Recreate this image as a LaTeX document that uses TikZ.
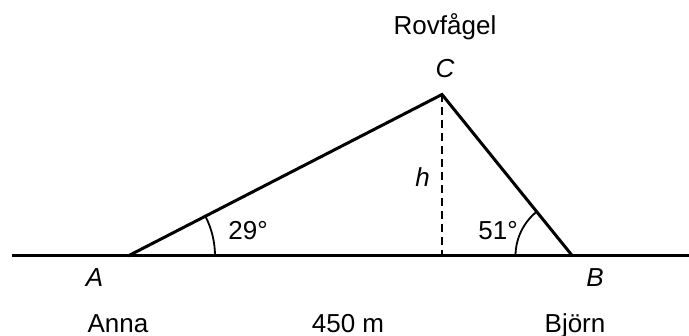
\documentclass[tikz,border=0pt]{standalone}
\usepackage{fontspec}
\setmainfont{Liberation Sans}
\usetikzlibrary{angles}

\begin{document}
\begin{tikzpicture}[
  x=0.5pt, y=0.5pt, font=\fontsize{13pt}{15pt}\selectfont,
  side/.style={line width=1.5pt},
  height/.style={line width=1.15pt, dash pattern=on 4pt off 2.5pt},
  arcline/.style={draw, line width=0.9pt},
  lbl/.style={inner sep=0pt, anchor=base},
]
\useasboundingbox (0,0) rectangle (689,336);

% Ground line and triangle
\coordinate (left) at (12,80);
\coordinate (right) at (689,80);
\coordinate (A) at (128,80);
\coordinate (B) at (572.5,80);
\coordinate (C) at (442,241.5);
\coordinate (H) at (C |- A);

\draw[side] (left) -- (right);
\draw[side, line join=miter] (A) -- (C) -- (B);
\draw[height] (C) -- (H);

% Angles
\pic[arcline, angle radius=43.5pt] {angle=B--A--C};
\pic[arcline, angle radius=28.5pt] {angle=C--B--A};

% Labels
\node[lbl] (bird) at (445,301) {Rovfågel};
\node[lbl] (labC) at (445,258) {\textit{C}};
\node[lbl] (labh) at (422.5,149) {\textit{h}};
\node[lbl] (angA) at (248,96) {29°};
\node[lbl] (angB) at (498,96) {51°};
\node[lbl] (labA) at (94.5,49) {\textit{A}};
\node[lbl] (labB) at (595,49) {\textit{B}};
\node[lbl] (anna) at (118,3) {Anna};
\node[lbl] (dist) at (348,3) {450 m};
\node[lbl] (bjorn) at (575,3) {Björn};

\end{tikzpicture}
\end{document}
